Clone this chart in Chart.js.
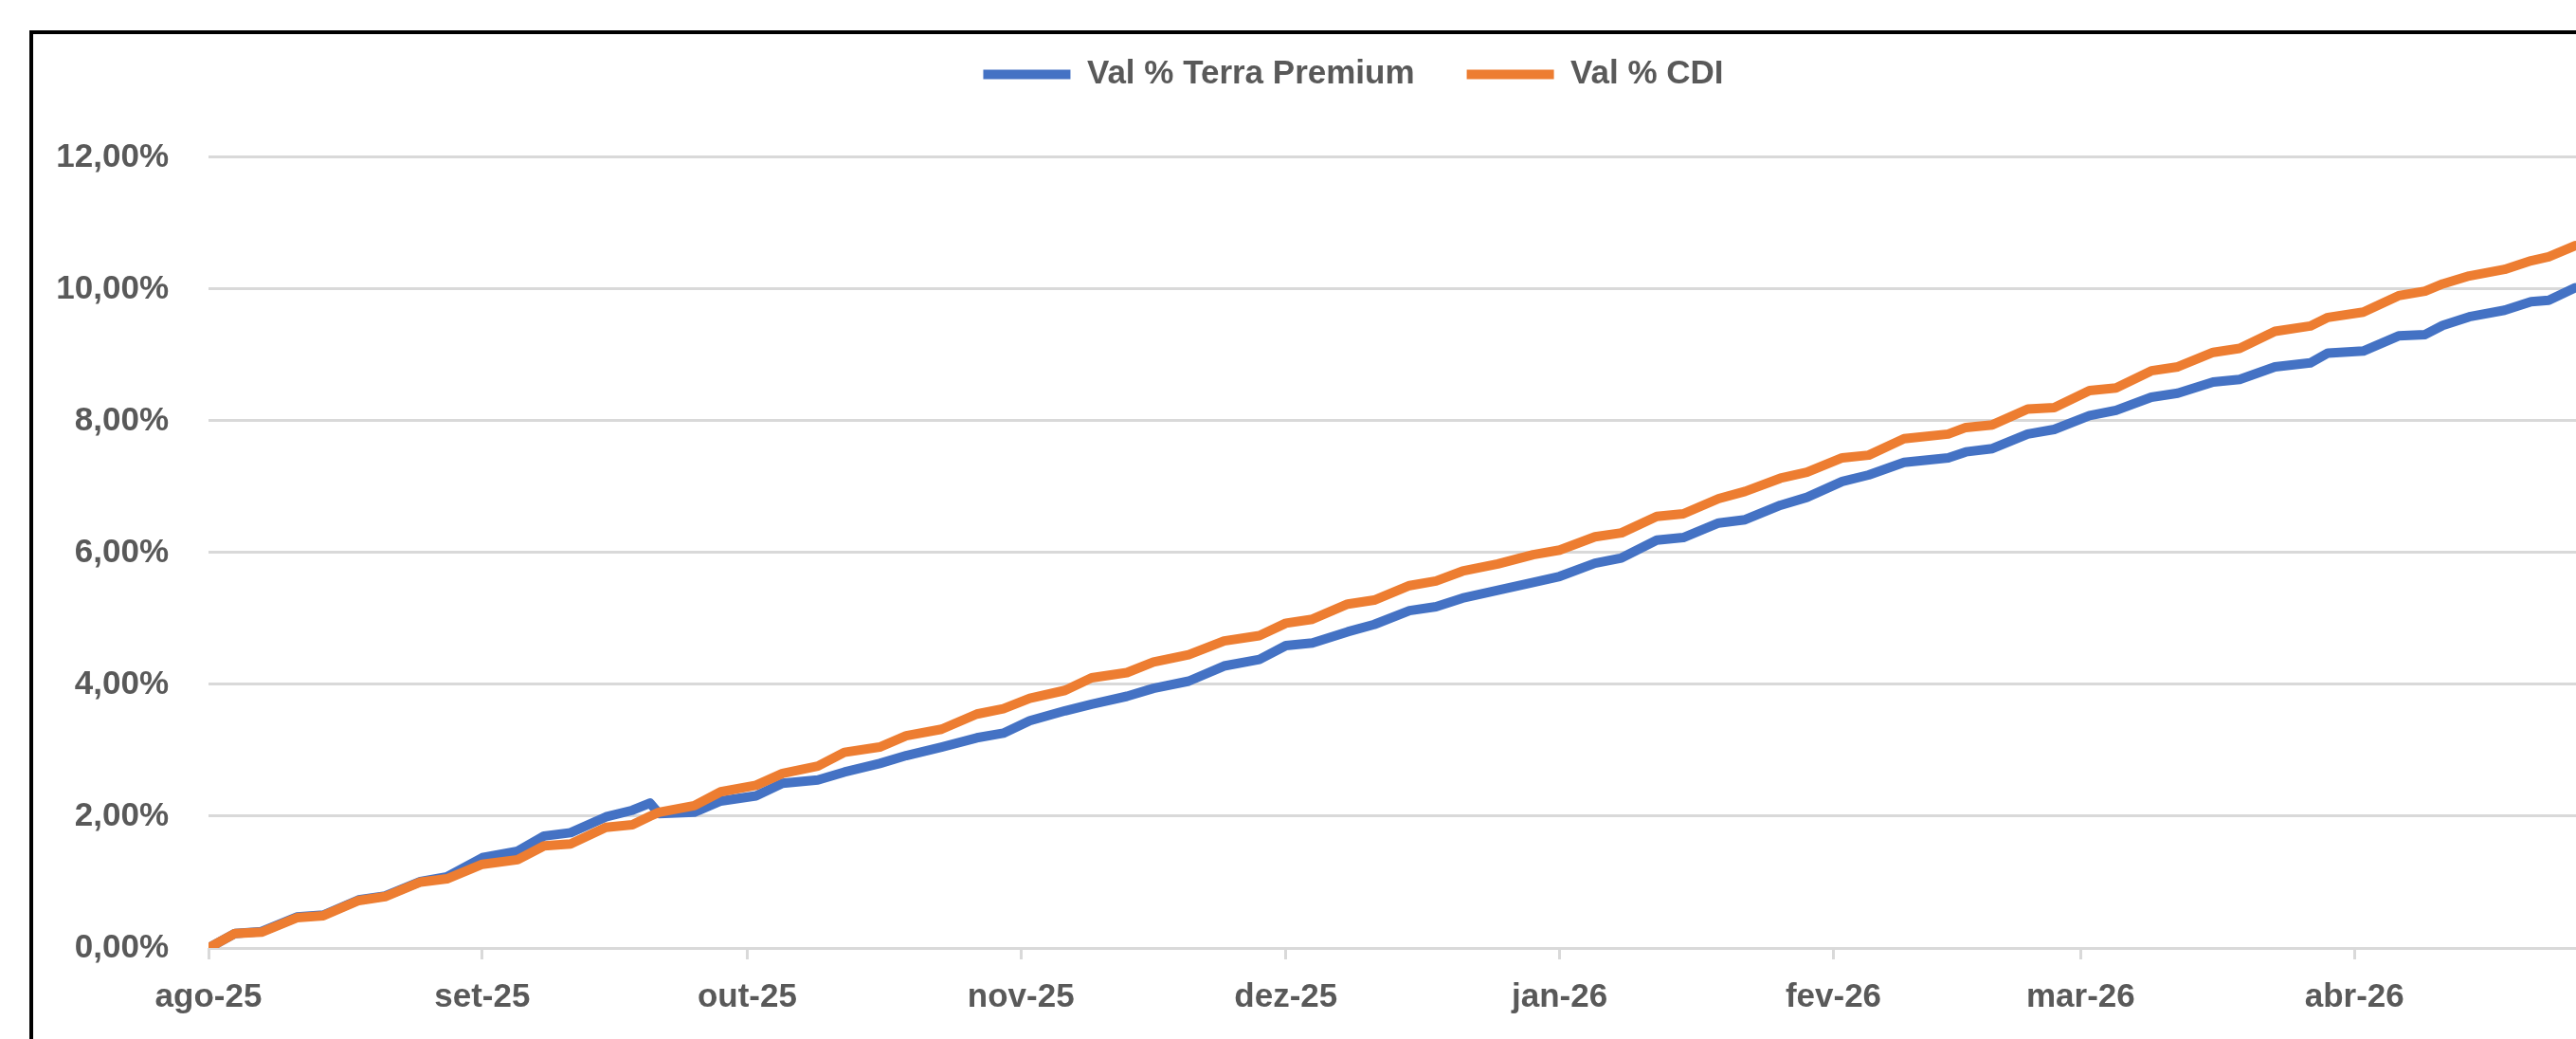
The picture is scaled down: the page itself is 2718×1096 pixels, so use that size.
<!DOCTYPE html>
<html>
<head>
<meta charset="utf-8">
<title>Val % Terra Premium x Val % CDI</title>
<script src="https://cdn.jsdelivr.net/npm/chart.js@4.4.1/dist/chart.umd.min.js"></script>
<style>
  html, body { margin: 0; padding: 0; background: #fff; overflow: hidden; }
  #wrap { position: relative; width: 2718px; height: 1096px; overflow: hidden; }
  #myChart { position: absolute; left: 0; top: 0; }
  #frame { position: absolute; left: 31px; top: 32px; width: 3000px; height: 2000px;
           border-left: 4px solid #000; border-top: 4px solid #000; pointer-events: none; }
</style>
</head>
<body>
<div id="wrap">
  <canvas id="myChart" width="2856" height="1096"></canvas>
  <div id="frame"></div>
</div>
<script>
// days counted from 01/08/2025
const dayOffsets = [0, 3, 6, 10, 13, 17, 20, 24, 27, 31, 35, 38, 41, 45, 48, 50, 51, 55, 58, 62,
  65, 69, 72, 76, 79, 83, 87, 90, 93, 97, 100, 104, 107, 111, 115, 119, 122, 125, 129, 132,
  136, 139, 142, 146, 150, 153, 157, 160, 164, 167, 171, 174, 178, 181, 185, 188, 192, 197, 199, 202,
  206, 209, 213, 216, 220, 223, 227, 230, 234, 238, 240, 244, 248, 251, 253, 256, 260, 263, 265, 268];

const terraPremium = [0.00, 0.22, 0.25, 0.47, 0.50, 0.73, 0.79, 1.01, 1.08, 1.37, 1.47, 1.70, 1.75, 1.99, 2.09, 2.20, 2.04, 2.06, 2.23, 2.31,
  2.50, 2.55, 2.67, 2.80, 2.92, 3.05, 3.19, 3.26, 3.45, 3.60, 3.70, 3.82, 3.94, 4.05, 4.28, 4.38, 4.59, 4.63, 4.80, 4.91,
  5.12, 5.18, 5.31, 5.43, 5.55, 5.64, 5.84, 5.92, 6.19, 6.23, 6.45, 6.50, 6.72, 6.84, 7.08, 7.18, 7.37, 7.44, 7.53, 7.58,
  7.80, 7.87, 8.08, 8.16, 8.36, 8.42, 8.59, 8.63, 8.82, 8.88, 9.03, 9.06, 9.29, 9.31, 9.45, 9.58, 9.68, 9.81, 9.83, 10.02];

const cdi = [0.00, 0.22, 0.24, 0.46, 0.49, 0.72, 0.78, 1.00, 1.05, 1.27, 1.34, 1.55, 1.58, 1.83, 1.87, 2.00, 2.06, 2.16, 2.37, 2.47,
  2.65, 2.76, 2.97, 3.05, 3.22, 3.32, 3.55, 3.63, 3.79, 3.91, 4.10, 4.18, 4.34, 4.45, 4.66, 4.74, 4.93, 4.99, 5.22, 5.28,
  5.50, 5.57, 5.72, 5.83, 5.97, 6.04, 6.24, 6.30, 6.55, 6.59, 6.82, 6.93, 7.13, 7.22, 7.44, 7.48, 7.73, 7.80, 7.90, 7.94,
  8.18, 8.20, 8.46, 8.50, 8.76, 8.82, 9.04, 9.10, 9.36, 9.44, 9.57, 9.65, 9.90, 9.97, 10.08, 10.20, 10.30, 10.43, 10.49, 10.66];

// first day of each month, in days from 01/08/2025
const monthTicks = [0, 31, 61, 92, 122, 153, 184, 212, 243];
const monthLabels = ['ago-25', 'set-25', 'out-25', 'nov-25', 'dez-25', 'jan-26', 'fev-26', 'mar-26', 'abr-26'];
const yTicks = [0, 2, 4, 6, 8, 10, 12];

const toPoints = (values) => dayOffsets.map((d, i) => ({ x: d, y: values[i] }));

const labelFont = { family: "'Liberation Sans', Arial, sans-serif", size: 35, weight: 'bold' };
const labelColor = '#595959';
const gridColor = '#d9d9d9';

const ctx = document.getElementById('myChart').getContext('2d');
new Chart(ctx, {
  type: 'line',
  data: {
    datasets: [
      {
        label: 'Val % Terra Premium',
        data: toPoints(terraPremium),
        borderColor: '#4472C4',
        backgroundColor: '#4472C4',
        borderWidth: 10,
        borderCapStyle: 'round',
        borderJoinStyle: 'round',
        pointRadius: 0,
        tension: 0,
        fill: false,
        order: 1
      },
      {
        label: 'Val % CDI',
        data: toPoints(cdi),
        borderColor: '#ED7D31',
        backgroundColor: '#ED7D31',
        borderWidth: 10,
        borderCapStyle: 'round',
        borderJoinStyle: 'round',
        pointRadius: 0,
        tension: 0,
        fill: false,
        order: 0
      }
    ]
  },
  options: {
    responsive: false,
    animation: false,
    layout: { padding: { top: 6, left: 0, right: 0, bottom: 0 } },
    plugins: {
      tooltip: { enabled: false },
      legend: {
        position: 'top',
        labels: {
          usePointStyle: true,
          pointStyle: 'line',
          pointStyleWidth: 92,
          padding: 55,
          color: labelColor,
          font: labelFont,
          sort: (a, b) => a.datasetIndex - b.datasetIndex
        }
      }
    },
    scales: {
      x: {
        type: 'linear',
        min: 0,
        max: 282.9,
        afterBuildTicks: (axis) => { axis.ticks = monthTicks.map(v => ({ value: v })); },
        afterFit: (axis) => { axis.height = 96; },
        border: { display: false },
        grid: {
          drawOnChartArea: false,
          drawTicks: true,
          tickLength: 12,
          color: gridColor,
          lineWidth: 3
        },
        ticks: {
          autoSkip: false,
          maxRotation: 0,
          padding: 19,
          color: labelColor,
          font: labelFont,
          callback: (value) => monthLabels[monthTicks.indexOf(value)]
        }
      },
      y: {
        min: 0,
        max: 12.863,
        afterBuildTicks: (axis) => { axis.ticks = yTicks.map(v => ({ value: v })); },
        afterFit: (axis) => { axis.width = 220; },
        border: { display: false },
        grid: {
          drawTicks: false,
          color: gridColor,
          lineWidth: 3
        },
        ticks: {
          padding: 42,
          color: labelColor,
          font: labelFont,
          callback: (value) => value.toFixed(2).replace('.', ',') + '%'
        }
      }
    }
  }
});
</script>
</body>
</html>
